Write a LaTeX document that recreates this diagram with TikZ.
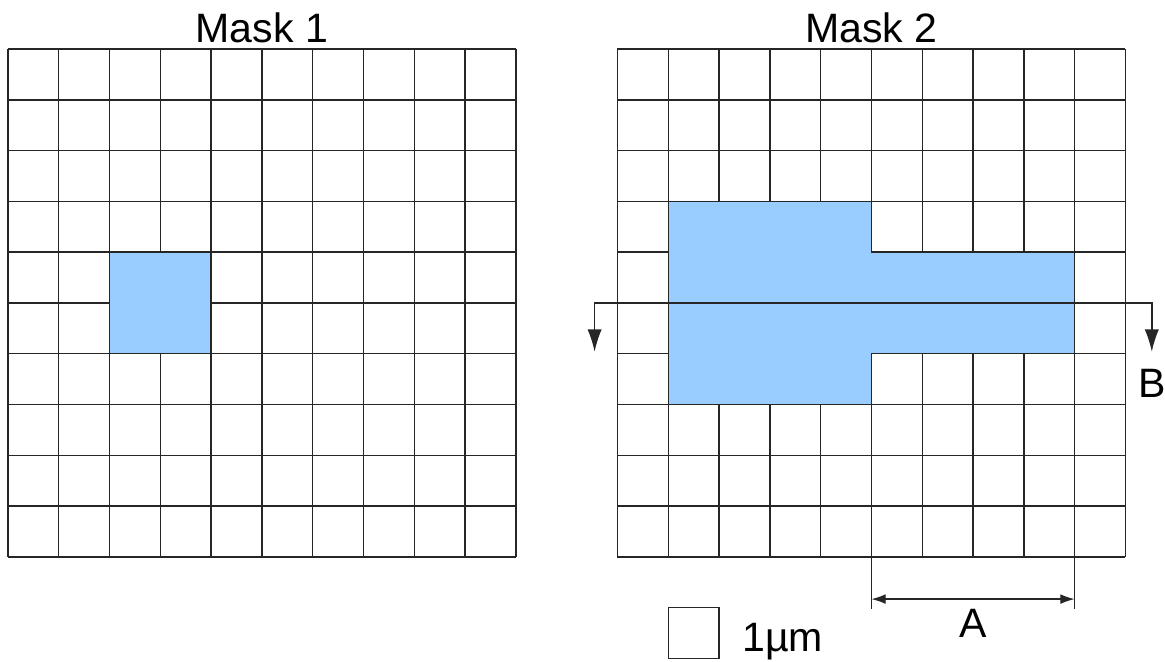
\documentclass[tikz,border=0pt]{standalone}
\usepackage{fontspec}
\setmainfont{Liberation Sans}
\usetikzlibrary{arrows.meta,positioning}
\definecolor{maskblue}{HTML}{99CCFF}
\tikzset{
  gridline/.style={line width=0.8pt,draw=black!85},
  cutline/.style={line width=0.8pt,draw=black!85,{Latex[length=12.5pt,width=8pt]}-{Latex[length=12.5pt,width=8pt]}},
  dimline/.style={line width=0.7pt,draw=black!85,{Latex[length=8pt,width=5.5pt]}-{Latex[length=8pt,width=5.5pt]}},
  lbl/.style={font=\fontsize{23}{27}\selectfont,inner sep=0pt,anchor=base}
}
\begin{document}
\begin{tikzpicture}
\useasboundingbox (-0.157,-2.067) rectangle (22.78,10.965);
\draw[gridline] (0,0) grid (10,10);
\draw[gridline] (12,0) grid (22,10);
\draw[gridline,fill=maskblue] (2,4) rectangle (4,6);
\draw[gridline,fill=maskblue] (13,3) -- (17,3) -- (17,4) -- (21,4) -- (21,6)
	-- (17,6) -- (17,7) -- (13,7) -- cycle;
\node[lbl] (title1) at (5,10.12) {Mask 1};
\node[lbl] (title2) at (17,10.12) {Mask 2};
\coordinate (cutl) at (11.55,4.04);
\coordinate (cutr) at (22.52,4.04);
\draw[cutline] (cutl) |- (17,5.0) -| (cutr);
\node[lbl] (labB) at (22.52,3.13) {B};
\coordinate (dimtl) at (17,0);
\coordinate (dimtr) at (21,0);
\coordinate (dimbl) at (17,-1.02);
\coordinate (dimbr) at (21,-1.02);
\draw[line width=0.7pt,black!85] (dimtl) -- (dimbl);
\draw[line width=0.7pt,black!85] (dimtr) -- (dimbr);
\draw[dimline] ([yshift=0.19cm]dimbl) -- ([yshift=0.19cm]dimbr);
\node[lbl] (labA) at (19,-1.59) {A};
\node[draw=black!85,line width=0.8pt,minimum size=1cm,inner sep=0pt] (unitbox) at (13.5,-1.5) {};
\node[lbl,anchor=base west] (unitlbl) at (14.45,-1.87) {1µm};
\end{tikzpicture}
\end{document}
